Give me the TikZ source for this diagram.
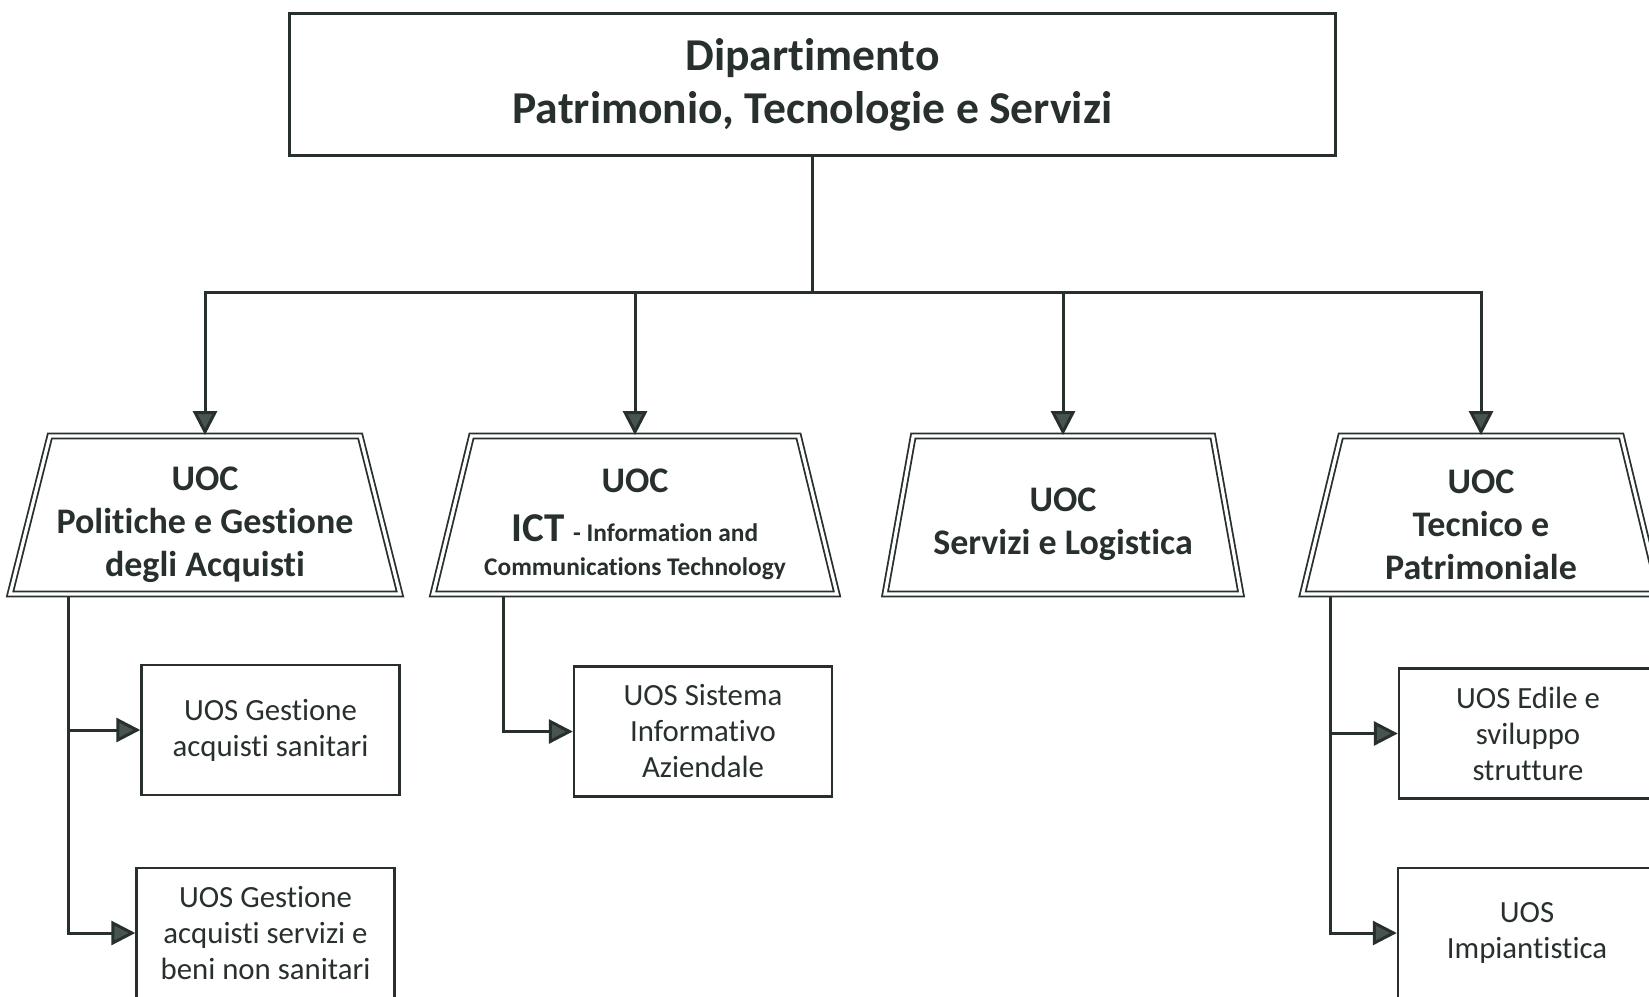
\documentclass[tikz,border=0pt]{standalone}
\usepackage{fontspec}
\setmainfont{Carlito}[Ligatures={NoCommon,NoContextual}]
\usepackage{tikz}
\usetikzlibrary{shapes.geometric,arrows.meta}
\definecolor{ink}{RGB}{40,48,46}
\definecolor{tipgray}{RGB}{72,84,82}
\newcommand\uocstrut{\rule{0pt}{21.5pt}}
\tikzset{
dipbox/.style={
  draw=ink,
  line width=1.8pt,
  minimum width=523pt,
  minimum height=71pt,
  align=center,
  font=\bfseries\fontsize{22.8}{26.5}\selectfont,
  text=ink
  },
uocbox/.style={
  trapezium,
  trapezium left angle=75,
  trapezium right angle=75,
  trapezium stretches body=true,
  draw=ink,
  double=white,
  double distance=1.6pt,
  line width=0.9pt,
  minimum height=79pt,
  minimum width=#1,
  align=center,
  font=\bfseries\fontsize{18}{21.5}\selectfont,
  text=ink
  },
uosbox/.style={
  draw=ink,
  line width=1.2pt,
  minimum width=129pt,
  minimum height=65pt,
  align=center,
  font=\fontsize{15.4}{18}\selectfont,
  text=ink
  },
link/.style={
  draw=ink,
  line width=1.5pt,
  -{Triangle[length=12pt,width=12pt,fill=tipgray]}
  }
}
\begin{document}
\begin{tikzpicture}[x=0.5pt,y=-0.5pt]
\useasboundingbox (0,0) rectangle (1649,996);

\node[dipbox] (dip) at (812.5,84.5) {Dipartimento\\Patrimonio, Tecnologie e Servizi};

\node[uocbox=192pt] (acq) at (205,515) {\uocstrut UOC\\Politiche e Gestione\\degli Acquisti};
\node[uocbox=202pt] (ict) at (635,515) {\uocstrut UOC\\[3pt]{\fontsize{20.5}{22}\selectfont ICT} {\fontsize{12.7}{14}\selectfont - Information and}\\[-4.5pt]{\fontsize{12.7}{14}\selectfont Communications Technology}};
\node[uocbox=178pt] (log) at (1063,515) {\uocstrut UOC\\Servizi e Logistica};
\node[uocbox=178.5pt] (tec) at (1481,515) {\uocstrut UOC\\Tecnico e\\Patrimoniale};

\node[uosbox] (san) at (270.5,730) {UOS Gestione\\acquisti sanitari};
\node[uosbox] (nonsan) at (265.5,933) {UOS Gestione\\acquisti servizi e\\beni non sanitari};
\node[uosbox] (sia) at (703,731.5) {UOS Sistema\\Informativo\\Aziendale};
\node[uosbox] (edi) at (1528,733.5) {UOS Edile e\\sviluppo\\strutture};
\node[uosbox] (imp) at (1527,933) {UOS\\Impiantistica};

\coordinate (bus) at (812.5,292);
\coordinate (acqs) at (68,597);
\coordinate (icts) at (503,597);
\coordinate (tecs) at (1330,597);

\draw[draw=ink,line width=1.5pt] (dip.south) -- (bus);
\draw[link] (bus) -| (acq.north);
\draw[link] (bus) -| (ict.north);
\draw[link] (bus) -| (log.north);
\draw[link] (bus) -| (tec.north);

\draw[link] (acqs) |- (san.west);
\draw[link] (acqs) |- (nonsan.west);
\draw[link] (icts) |- (sia.west);
\draw[link] (tecs) |- (edi.west);
\draw[link] (tecs) |- (imp.west);
\end{tikzpicture}
\end{document}
